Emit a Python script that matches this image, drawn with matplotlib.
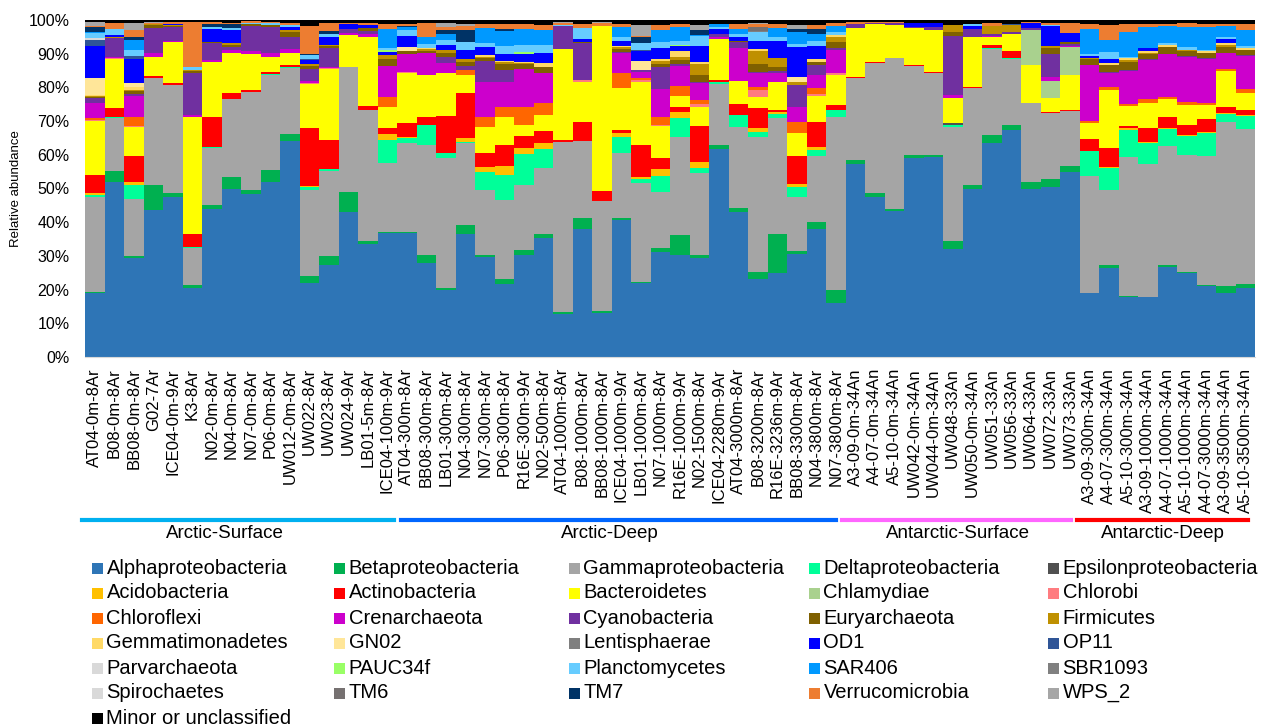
import numpy as np
import matplotlib
matplotlib.use("Agg")
import matplotlib.pyplot as plt
from matplotlib.patches import Rectangle
from matplotlib.lines import Line2D

plt.rcParams["font.family"] = ["Liberation Sans", "DejaVu Sans"]

samples = [
    "AT04-0m-8Ar", "B08-0m-8Ar", "BB08-0m-8Ar", "G02-7Ar", "ICE04-0m-9Ar", "K3-8Ar",
    "N02-0m-8Ar", "N04-0m-8Ar", "N07-0m-8Ar", "P06-0m-8Ar", "UW012-0m-8Ar", "UW022-8Ar",
    "UW023-8Ar", "UW024-9Ar", "LB01-5m-8Ar", "ICE04-100m-9Ar",
    "AT04-300m-8Ar", "BB08-300m-8Ar", "LB01-300m-8Ar", "N04-300m-8Ar", "N07-300m-8Ar",
    "P06-300m-8Ar", "R16E-300m-9Ar", "N02-500m-8Ar", "AT04-1000m-8Ar", "B08-1000m-8Ar",
    "BB08-1000m-8Ar", "ICE04-1000m-9Ar", "LB01-1000m-8Ar", "N07-1000m-8Ar", "R16E-1000m-9Ar",
    "N02-1500m-8Ar", "ICE04-2280m-9Ar", "AT04-3000m-8Ar", "B08-3200m-8Ar", "R16E-3236m-9Ar",
    "BB08-3300m-8Ar", "N04-3800m-8Ar", "N07-3800m-8Ar",
    "A3-09-0m-34An", "A4-07-0m-34An", "A5-10-0m-34An", "UW042-0m-34An", "UW044-0m-34An",
    "UW048-33An", "UW050-0m-34An", "UW051-33An", "UW056-33An", "UW064-33An", "UW072-33An",
    "UW073-33An",
    "A3-09-300m-34An", "A4-07-300m-34An", "A5-10-300m-34An", "A3-09-1000m-34An",
    "A4-07-1000m-34An", "A5-10-1000m-34An", "A4-07-3000m-34An", "A3-09-3500m-34An",
    "A5-10-3500m-34An",
]

group_names = ["Arctic-Surface", "Arctic-Deep", "Antarctic-Surface", "Antarctic-Deep"]

alpha = [18.9, 52.0, 29.3, 43.6, 47.6, 20.4, 43.8, 49.8, 48.4, 52.0,
         64.1, 22.1, 27.3, 43.1, 33.4, 36.9, 36.7, 27.8, 19.9, 36.5,
         29.8, 21.7, 30.3, 35.2, 12.8, 37.9, 13.2, 40.7, 22.1, 31.3,
         30.3, 29.3, 61.6, 43.1, 23.0, 24.8, 30.6, 37.9, 16.1, 57.3,
         47.6, 43.3, 59.0, 59.4, 31.9, 50.0, 63.4, 67.4, 50.0, 50.5,
         55.0, 18.9, 26.5, 17.7, 17.7, 26.6, 24.8, 21.1, 18.9, 20.6]
beta = [0.5, 3.2, 0.5, 7.4, 1.2, 1.0, 1.3, 3.7, 1.2, 3.5,
        2.1, 2.0, 2.7, 6.0, 1.1, 0.3, 0.4, 2.5, 0.7, 2.7,
        0.5, 1.3, 1.5, 1.3, 0.7, 3.2, 0.5, 0.4, 0.3, 1.0,
        5.9, 1.0, 1.3, 1.0, 2.3, 11.7, 1.0, 2.3, 3.8, 1.2,
        1.0, 0.5, 0.9, 0.5, 2.6, 1.0, 2.5, 1.4, 2.0, 2.2,
        1.7, 0.2, 0.8, 0.4, 0.2, 0.7, 0.3, 0.3, 2.2, 1.1]
gamma = [28.0, 15.6, 17.0, 31.7, 31.9, 10.8, 16.8, 23.0, 29.1, 28.2,
         19.5, 25.5, 25.3, 36.9, 38.8, 20.5, 26.5, 32.6, 38.4, 24.2,
         19.3, 23.6, 19.2, 19.5, 50.4, 23.0, 32.7, 19.3, 29.3, 16.8,
         29.0, 24.2, 18.1, 24.2, 39.9, 34.3, 15.8, 19.3, 51.4, 24.2,
         38.7, 44.8, 26.5, 24.5, 33.8, 28.7, 25.4, 19.5, 23.3, 19.8,
         16.4, 34.7, 22.3, 41.1, 39.4, 35.3, 34.8, 38.1, 48.5, 45.9]
delta = [0.7, 0.3, 4.0, 0, 0, 0.3, 0.3, 0, 0, 0.3,
         0.3, 0.9, 0.5, 0, 0, 6.7, 1.3, 5.9, 1.4, 0.5,
         5.4, 7.4, 9.2, 5.6, 0, 0, 0, 4.8, 1.0, 4.6,
         5.6, 1.5, 0.7, 3.5, 1.7, 1.3, 2.9, 2.0, 1.9, 0,
         0, 0, 0, 0, 0.5, 0, 0.3, 0.3, 0, 0,
         0, 7.3, 6.4, 8.2, 6.3, 5.0, 5.7, 7.1, 2.5, 3.9]
epsilon = [0, 0, 0, 0, 0, 0, 0, 0, 0, 0,
           0, 0, 0, 0, 0, 0, 0, 0, 0, 0,
           0, 0, 0, 0, 0, 0, 0, 0, 0, 0,
           0, 0, 0, 0, 0, 0, 0, 0, 0, 0,
           0, 0, 0, 0, 0.5, 0, 0, 0, 0, 0,
           0, 0, 0, 0, 0, 0, 0, 0, 0, 0]
acido = [0.5, 0, 0.9, 0, 0, 0, 0, 0, 0, 0,
         0, 0.3, 0, 0, 0, 1.8, 0.5, 0, 0, 1.0,
         1.3, 2.7, 1.7, 2.0, 0, 0, 0, 1.4, 0.8, 2.0,
         2.0, 1.8, 0, 0, 1.0, 0.7, 1.0, 0.8, 0, 0,
         0, 0, 0, 0, 0, 0, 0, 0, 0, 0,
         0, 0, 0.5, 0.5, 0.3, 0.3, 0.3, 0.2, 0.2, 0.2]
actino = [5.4, 2.9, 7.7, 0.7, 0.7, 4.0, 8.9, 1.7, 0.5, 0.7,
          0.6, 17.1, 8.6, 0, 1.2, 1.7, 4.1, 2.5, 11.1, 13.3,
          4.1, 6.2, 3.7, 3.5, 0.5, 5.7, 3.0, 0.8, 9.4, 3.3,
          1.3, 10.5, 0.5, 3.3, 5.9, 0.5, 8.3, 7.3, 1.6, 0.3,
          0.3, 0, 0.2, 0.3, 0, 0.5, 1.0, 2.2, 0.2, 0.3,
          0.2, 3.5, 5.4, 0.6, 4.0, 3.2, 3.0, 3.8, 2.0, 1.5]
bacteroidetes = [16.0, 14.4, 8.8, 5.5, 12.0, 34.6, 16.5, 11.9, 10.6, 4.4,
                 3.5, 13.1, 21.0, 9.5, 20.6, 6.4, 14.9, 12.4, 12.7, 5.5,
                 7.9, 8.2, 3.2, 4.7, 26.9, 11.9, 48.8, 12.3, 18.8, 9.5,
                 3.2, 5.8, 12.1, 6.9, 3.3, 8.4, 7.0, 7.9, 8.9, 14.5,
                 11.2, 9.9, 10.9, 12.3, 7.5, 14.7, 2.3, 5.1, 11.1, 4.0,
                 10.4, 4.7, 17.3, 6.0, 7.6, 5.4, 5.9, 4.2, 10.6, 5.0]
chlamydiae = [0, 0, 0, 0, 0, 0, 0, 0, 0, 0,
              0, 0, 0, 0, 0, 0, 0, 0, 0, 0,
              0, 0, 0, 0, 0, 0, 0, 0, 0, 0,
              0, 0, 0, 0, 0, 0, 0, 0, 0, 0,
              0, 0, 0, 0, 0, 0, 0, 0, 10.4, 5.2,
              8.2, 0, 0, 0, 0, 0, 0, 0, 0, 0]
chlorobi = [0.3, 0.4, 0.3, 0, 0, 0, 0, 0, 0, 0,
            0, 0.4, 0.4, 0, 0, 0, 0.3, 0, 0.2, 0,
            0, 0, 0, 0, 0, 0.5, 0, 0, 0.5, 0.3,
            0, 0.8, 0, 0, 2.1, 0, 0, 0.5, 0.5, 0,
            0, 0, 0, 0, 0, 0, 0, 0, 0, 0,
            0, 0, 0, 0, 0, 0, 0, 0, 0, 0]
chloroflexi = [0.5, 0, 2.6, 0, 0, 0, 0, 0, 0, 0,
               0, 0, 0, 0, 0, 2.8, 0, 0, 0, 1.5,
               2.8, 3.0, 5.5, 3.5, 0, 0, 0, 4.7, 0.7, 2.5,
               3.1, 1.2, 0, 0, 1.0, 0, 3.2, 1.7, 0, 0,
               0, 0, 0, 0, 0, 0, 0, 0, 0, 0,
               0, 0.8, 0.8, 0.6, 1.0, 0.6, 1.0, 0.5, 0.5, 1.4]
crenarchaeota = [4.5, 0.3, 6.3, 1.2, 0.5, 0.6, 0.5, 1.0, 1.0, 1.0,
                 1.2, 0.5, 0.4, 0.5, 0.7, 9.3, 5.1, 6.4, 2.7, 0,
                 10.6, 7.6, 11.1, 9.1, 0, 0, 0, 5.7, 1.7, 8.2,
                 6.0, 4.9, 0.8, 9.7, 4.0, 2.5, 4.4, 4.0, 6.9, 0,
                 0, 0, 0, 0, 1.0, 0.2, 0.4, 0, 0, 1.0,
                 0.4, 16.5, 4.2, 9.7, 11.6, 12.8, 13.3, 13.0, 4.7, 9.7]
cyanobacteria = [1.7, 5.6, 0.6, 7.4, 4.1, 12.7, 5.0, 1.0, 7.4, 7.9,
                 3.6, 3.5, 5.6, 1.2, 1.0, 0, 0, 0, 2.0, 1.2,
                 6.2, 3.5, 0, 0, 6.9, 10.9, 0, 0.5, 0.6, 6.7,
                 0.6, 0.5, 0.6, 1.7, 0.5, 0.8, 6.4, 3.0, 0.5, 1.3,
                 0.4, 0.5, 0.3, 0.8, 17.4, 2.1, 0.5, 0.6, 0.5, 6.9,
                 0.6, 0, 0.5, 0.4, 0.4, 0, 0.3, 0.3, 0, 0.3]
euryarchaeota = [0.2, 0, 0.7, 1.0, 0.3, 0.5, 0.5, 0.5, 0.6, 0.5,
                 1.6, 0.9, 0.4, 0, 0.7, 1.9, 1.0, 0.6, 1.0, 1.2,
                 0.7, 1.7, 1.5, 1.7, 0, 0.5, 0, 0.7, 0, 0.8,
                 1.2, 2.0, 0, 0.5, 2.1, 1.0, 0, 0.8, 2.0, 0,
                 0, 0, 0, 0, 1.1, 0, 0, 0, 0, 1.7,
                 0.7, 1.7, 1.9, 2.4, 1.4, 2.0, 1.3, 1.6, 1.8, 1.5]
firmicutes = [0.2, 0.3, 0.5, 0.3, 0.3, 0.3, 0, 0.5, 0, 0,
              0.5, 0.5, 0.4, 0, 0, 1.3, 0, 0.6, 1.0, 0.7,
              0.5, 0.5, 0.4, 0, 0, 0, 0, 0.6, 0, 0.7,
              0.8, 3.4, 0, 0, 4.0, 2.6, 1.0, 0, 1.5, 0,
              0, 0, 0, 0, 2.3, 0, 2.4, 2.0, 0, 0.7,
              0, 0.5, 0, 0.5, 0.4, 0, 0.5, 0, 0.7, 0]
gemmatimonadetes = [0.3, 0, 0.8, 0, 0, 0, 0, 0, 0, 0,
                    0, 0, 0, 0, 0, 0, 0, 0.5, 0, 0,
                    0.5, 0.5, 0.3, 1.2, 0, 0, 0, 0.5, 0, 0.8,
                    1.7, 0.5, 0, 0, 0.5, 0, 0, 0.9, 0.5, 0,
                    0, 0, 0, 0, 0, 0, 0, 0, 0, 0,
                    0, 0, 0.5, 0.5, 0.6, 0.7, 0, 0.6, 0.7, 0.5]
gn02 = [5.0, 0, 1.0, 0, 0, 0, 0, 0, 0, 0,
        0, 0, 0, 0, 0, 0, 1.1, 0, 0, 0,
        0, 0, 0, 0, 0, 0, 0, 0, 2.5, 0,
        0, 0, 0, 0, 0, 0, 1.5, 0, 0, 0,
        0, 0, 0, 0, 0, 0, 0, 0, 0, 0,
        0, 0, 0, 0, 0, 0, 0, 0, 0, 0]
lentisphaerae = [0] * 60
od1 = [9.7, 0.6, 7.3, 0, 0.3, 0, 3.6, 3.9, 0, 0,
       1.0, 1.2, 2.5, 1.6, 1.0, 1.0, 3.4, 0, 1.5, 2.9,
       2.5, 2.0, 2.3, 3.0, 0, 0.7, 0, 1.3, 3.0, 3.3,
       1.7, 4.6, 1.5, 1.0, 2.5, 5.3, 9.0, 4.0, 0, 0,
       0, 0, 1.4, 1.4, 0, 1.0, 0, 0, 1.5, 5.9,
       2.4, 0.5, 1.2, 0, 0.7, 0, 0, 0, 1.0, 0]
op11 = [1.8, 0, 0.8, 0, 0, 0, 0, 0, 0, 0,
        0, 0.3, 0, 0, 0, 0, 0, 0, 0, 0,
        0, 0, 0, 0, 0, 0, 0, 0, 0.5, 0,
        0, 0, 0, 0, 0, 0, 0, 0, 0, 0,
        0, 0, 0, 0, 0, 0, 0, 0.3, 0, 0,
        0, 0, 0, 0, 0, 0, 0, 0, 0, 0]
parvarchaeota = [0.4, 0, 0, 0, 0, 0, 0, 0, 0, 0,
                 0, 0, 0, 0, 0, 0, 0, 0, 0, 0,
                 0, 0, 0, 0, 0, 0, 0, 0, 0, 0,
                 0, 0, 0, 0, 0, 0, 0, 0, 0, 0,
                 0, 0, 0, 0, 0, 0, 0, 0, 0, 0,
                 0, 0, 0, 0, 0, 0, 0, 0, 0, 0]
pauc34f = [0, 0, 0, 0, 0, 0, 0, 0, 0, 0,
           0, 0, 0, 0, 0, 0.5, 0, 0, 0, 0,
           0, 0, 0.7, 0, 0, 0, 0, 0, 0, 0,
           0.3, 0, 0, 0, 0, 0, 0, 0, 0, 0,
           0, 0, 0, 0, 0, 0, 0, 0, 0, 0,
           0, 0, 0, 0, 0, 0, 0, 0, 0, 0]
planctomycetes = [1.6, 1.7, 1.8, 0, 0, 1.0, 0.8, 0.5, 0.4, 0.5,
                  0.5, 1.2, 0.7, 0, 0, 0.6, 1.7, 1.2, 1.6, 2.4,
                  1.0, 2.4, 2.0, 2.3, 0.3, 3.2, 0, 1.2, 2.0, 1.8,
                  1.2, 3.0, 0.8, 0.8, 2.5, 1.2, 0.8, 1.5, 0.8, 0,
                  0, 0, 0, 0, 0, 0.6, 0, 0, 0, 0.4,
                  0, 0.6, 2.3, 0.5, 0, 0.6, 0.8, 0.4, 0.8, 0.7]
sar406 = [0.2, 0, 3.0, 0, 0, 0, 0, 0, 0, 0,
          0, 0, 0, 0, 0, 5.5, 0.8, 2.0, 1.6, 0,
          4.4, 4.5, 4.6, 4.5, 0, 0, 0, 3.0, 0, 3.5,
          4.0, 0.5, 0.8, 1.7, 0, 2.4, 3.5, 1.8, 1.8, 0,
          0, 0, 0, 0, 0, 0, 0, 0, 0, 0,
          0, 7.3, 3.5, 7.4, 6.4, 4.9, 6.0, 6.8, 3.0, 4.6]
sbr1093 = [0, 0, 0, 0, 0, 0, 0, 0, 0, 0,
           0, 0, 0, 0, 0, 0, 0, 0, 0, 0,
           0, 0, 0, 0, 0, 0, 0, 0, 0, 0,
           0, 0, 0, 0, 0.3, 0, 0, 0, 0, 0,
           0, 0, 0, 0, 0, 0, 0, 0, 0, 0,
           0, 0, 0, 0, 0, 0, 0, 0, 0, 0]
spirochaetes = [0] * 60
tm6 = [0, 0, 0, 0, 0, 0, 0, 0, 0, 0,
       0, 0, 0, 0, 0, 0, 0, 0, 0, 0,
       0, 0, 0, 0, 0, 0, 0, 0, 0, 0,
       0, 0, 0, 0, 1.3, 0, 0, 0, 0, 0,
       0, 0, 0, 0, 0, 0, 0, 0, 0, 0,
       0, 0, 0, 0, 0, 0, 0, 0, 0, 0]
tm7 = [1.5, 0, 0.9, 0, 0, 0, 0.8, 1.3, 0, 0,
       0, 0.5, 1.0, 0, 0, 0, 0.4, 0, 1.2, 3.5,
       0, 0.4, 0, 0, 0, 0, 0, 0, 1.7, 0,
       0, 1.3, 0, 0, 0, 0, 1.0, 1.7, 0, 0,
       0, 0, 0, 0, 0, 0, 0, 0, 0, 0,
       0, 0, 0, 0, 0, 0, 0, 0, 0, 0]
verrucomicrobia = [0.4, 1.7, 2.0, 0.3, 0.5, 13.1, 0.5, 0.4, 0.4, 0.5,
                   0.7, 8.2, 2.2, 0.4, 0.5, 1.6, 0.6, 4.1, 1.0, 1.0,
                   1.3, 1.6, 1.6, 1.4, 0.5, 1.4, 0.8, 1.0, 0.5, 1.3,
                   1.0, 0, 0, 1.5, 0.8, 1.3, 0, 1.0, 0.8, 0.5,
                   0.3, 0.4, 0, 0, 0, 0, 0.8, 0, 0.3, 0.4,
                   3.2, 1.6, 4.4, 2.3, 0.8, 0.8, 1.2, 0.9, 0.8, 1.8]
wps_2 = [1.2, 0, 2.2, 0.4, 0, 0, 0, 0, 0, 0,
         0, 0, 0, 0, 0, 0, 0, 0, 1.2, 0.6,
         0, 0, 0, 0, 0.5, 0, 0.5, 0, 3.2, 0,
         0, 1.4, 0, 0, 0.5, 0, 1.0, 0, 0, 0,
         0, 0, 0, 0, 0, 0, 0, 0, 0, 0,
         0, 0, 0, 0, 0, 0, 0, 0, 0, 0]
minor = [0.5, 1.0, 0.8, 0.5, 0.6, 0.7, 0.7, 0.8, 0.4, 0.5,
         0.8, 1.8, 1.0, 0.8, 1.0, 1.2, 1.2, 0.9, 0.8, 1.3,
         1.2, 1.2, 1.2, 1.5, 0.5, 1.1, 0.5, 1.1, 1.4, 1.6,
         1.1, 1.6, 1.2, 1.1, 0.8, 1.2, 1.6, 1.6, 1.0, 0.7,
         0.5, 0.6, 0.8, 0.8, 1.4, 1.2, 1.0, 1.2, 0.7, 1.0,
         0.8, 1.2, 1.5, 1.2, 1.2, 1.1, 0.8, 1.1, 1.1, 1.3]

taxa = [
    ("Alphaproteobacteria", alpha, "#2E75B6"),
    ("Betaproteobacteria", beta, "#00B050"),
    ("Gammaproteobacteria", gamma, "#A5A5A5"),
    ("Deltaproteobacteria", delta, "#00FF99"),
    ("Epsilonproteobacteria", epsilon, "#505050"),
    ("Acidobacteria", acido, "#FFC000"),
    ("Actinobacteria", actino, "#FF0000"),
    ("Bacteroidetes", bacteroidetes, "#FFFF00"),
    ("Chlamydiae", chlamydiae, "#A9D18E"),
    ("Chlorobi", chlorobi, "#FF7C80"),
    ("Chloroflexi", chloroflexi, "#FF6600"),
    ("Crenarchaeota", crenarchaeota, "#CC00CC"),
    ("Cyanobacteria", cyanobacteria, "#7030A0"),
    ("Euryarchaeota", euryarchaeota, "#7F6000"),
    ("Firmicutes", firmicutes, "#BF9000"),
    ("Gemmatimonadetes", gemmatimonadetes, "#FFD966"),
    ("GN02", gn02, "#FFE699"),
    ("Lentisphaerae", lentisphaerae, "#7F7F7F"),
    ("OD1", od1, "#0000FF"),
    ("OP11", op11, "#2F5597"),
    ("Parvarchaeota", parvarchaeota, "#D9D9D9"),
    ("PAUC34f", pauc34f, "#99FF66"),
    ("Planctomycetes", planctomycetes, "#66CCFF"),
    ("SAR406", sar406, "#0099FF"),
    ("SBR1093", sbr1093, "#808080"),
    ("Spirochaetes", spirochaetes, "#D9D9D9"),
    ("TM6", tm6, "#767171"),
    ("TM7", tm7, "#003366"),
    ("Verrucomicrobia", verrucomicrobia, "#ED7D31"),
    ("WPS_2", wps_2, "#A6A6A6"),
    ("Minor or unclassified", minor, "#000000"),
]

W, H = 1266, 728
fig = plt.figure(figsize=(W / 100, H / 100), dpi=100)
ax = fig.add_axes([85 / W, 1 - 357 / H, 1170 / W, 337 / H])

# 100% stacked: scale every sample to its total
data = np.array([t[1] for t in taxa], dtype=float)
pct = data / data.sum(axis=0) * 100

x = np.arange(len(samples))
bottom = np.zeros(len(samples))
for (name, _, col), vals in zip(taxa, pct):
    ax.bar(x, vals, bottom=bottom, width=1.0, color=col, linewidth=0)
    bottom += vals

ax.set_xlim(-0.5, len(samples) - 0.5)
ax.set_ylim(0, 100)
ax.set_yticks(np.arange(0, 101, 10))
ax.set_yticklabels([f"{v}%" for v in range(0, 101, 10)], fontsize=11.5)
ax.set_xticks(x)
ax.set_xticklabels(samples, rotation=90, fontsize=12)
ax.tick_params(axis="y", length=0, pad=11)
ax.tick_params(axis="x", length=0, pad=8)
for s in ["top", "right", "left"]:
    ax.spines[s].set_visible(False)
ax.spines["bottom"].set_color("#D9D9D9")
ax.set_ylabel("Relative abundance", fontsize=9.5, labelpad=5)

# group bars under the sample names
spans = [(82, 394, "#00B0F0"), (401, 836, "#0066FF"), (842, 1071, "#FF66FF"), (1077, 1248, "#FF0000")]
label_x = [225, 610, 958, 1163]
for (x0, x1, col), name, lx in zip(spans, group_names, label_x):
    fig.add_artist(Line2D([x0 / W, x1 / W], [1 - 520 / H, 1 - 520 / H],
                          transform=fig.transFigure, color=col, linewidth=3))
    fig.text(lx / W, 1 - 533 / H, name, fontsize=13.5, ha="center", va="center")

# legend, filled row by row
col_x = [92, 334, 569, 809, 1048]
for k, (name, _, col) in enumerate(taxa):
    r, c = divmod(k, 5)
    x0 = col_x[c]
    yc = 568 + 25 * r
    fig.add_artist(Rectangle((x0 / W, 1 - (yc + 5.5) / H), 11 / W, 11 / H,
                             transform=fig.transFigure, color=col, linewidth=0))
    fig.text((x0 + 14.5) / W, 1 - yc / H, name, fontsize=14.5, ha="left", va="center")

fig.savefig("out.png", dpi=100)
